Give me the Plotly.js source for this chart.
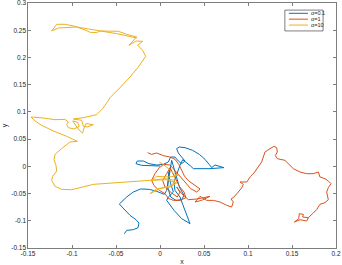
<!DOCTYPE html>
<html>
<head>
<meta charset="utf-8">
<script src="https://cdn.plot.ly/plotly-3.0.1.min.js"></script>
<style>html,body{margin:0;padding:0;background:#fff;}#chart{width:342px;height:265px;}</style>
</head>
<body>
<div id="chart"></div>
<script>
// Series names
const seriesNames = ['\u03b1=0.1', '\u03b1=1', '\u03b1=10'];
const seriesColors = ['#0072BD', '#D95319', '#EDB120'];

// alpha = 0.1 (blue)
const blueX = [0,-0.0114,-0.0208,-0.0273,-0.0258,-0.0189,-0.0125,-0.0038,0.0038,0.0095,0.0121,0.0170,0.0208,0.0246,0.0284,0.0246,0.0208,0.0189,0.0220,0.0284,0.0371,0.0447,0.0511,0.0561,0.0587,0.0625,0.0682,0.0727,0.0568,0.0379,0.0348,0.0303,0.0258,0.0227,0.0189,0.0159,0.0170,0.0227,0.0258,0.0295,0.0341,0.0246,0.0159,0.0076,0.0095,0.0152,0.0121,0.0095,0.0114,0.0095,0.0087,0.0121,0.0182,0.0246,0.0273,0.0220,0.0189,0.0152,0.0133,0.0076,0.0049,-0.0038,-0.0121,-0.0220,-0.0303,-0.0379,-0.0432,-0.0462,-0.0409,-0.0341,-0.0273,-0.0239,-0.0250,-0.0303,-0.0379,-0.0405];
const blueY = [0.0006,0.0018,0.0018,0.0049,0.0098,0.0098,0.0049,0.0024,0.0037,0.0080,0.0171,0.0171,0.0098,0.0049,0.0098,0.0171,0.0245,0.0325,0.0355,0.0343,0.0294,0.0220,0.0129,0.0031,-0.0024,0.0024,0,-0.0024,-0.0043,-0.0043,0.0006,0.0061,0.0122,0.0018,-0.0135,-0.0288,-0.0441,-0.0563,-0.0698,-0.0870,-0.1053,-0.0961,-0.0808,-0.0625,-0.0563,-0.0472,-0.0318,-0.0135,-0.0043,-0.0196,-0.0380,-0.0563,-0.0625,-0.0612,-0.0533,-0.0380,-0.0196,-0.0012,0.0110,-0.0441,-0.0514,-0.0459,-0.0423,-0.0416,-0.0472,-0.0563,-0.0649,-0.0692,-0.0784,-0.0900,-0.0980,-0.1041,-0.1127,-0.1163,-0.1176,-0.1237];

// alpha = 1 (red)
const redX = [-0.0140,-0.0095,-0.0038,0.0038,0.0114,0.0170,0.0216,0.0250,0.0277,0.0326,0.0398,0.0455,0.0417,0.0348,0.0284,0.0227,0.0170,0.0114,0.0045,-0.0008,-0.0057,-0.0095,-0.0068,-0.0008,0.0057,0.0095,0.0152,0.0227,0.0295,0.0273,0.0220,0.0182,0.0144,0.0114,0.0076,0.0030,0.0057,0.0133,0.0197,0.0227,0.0189,0.0246,0.0322,0.0417,0.0492,0.0568,0.0473,0.0398,0.0455,0.0530,0.0606,0.0682,0.0758,0.0814,0.0833,0.0807,0.0841,0.0890,0.0928,0.0947,0.0909,0.0985,0.1004,0.1030,0.1068,0.1117,0.1155,0.1174,0.1193,0.1250,0.1295,0.1326,0.1333,0.1311,0.1333,0.1420,0.1462,0.1515,0.1591,0.1667,0.1742,0.1799,0.1818,0.1875,0.1913,0.1943,0.1913,0.1894,0.1913,0.1875,0.1818,0.1780,0.1742,0.1686,0.1667,0.1591,0.1527,0.1576,0.1583,0.1629,0.1621,0.1686];
const redY = [0.0251,0.0220,0.0245,0.0196,0.0171,0.0129,0.0031,-0.0073,-0.0178,-0.0269,-0.0355,-0.0416,-0.0472,-0.0410,-0.0288,-0.0184,-0.0061,0.0024,0.0037,-0.0024,-0.0135,-0.0257,-0.0355,-0.0441,-0.0502,-0.0588,-0.0625,-0.0625,-0.0576,-0.0472,-0.0367,-0.0245,-0.0122,-0.0024,-0.0135,-0.0257,-0.0380,-0.0490,-0.0563,-0.0472,-0.0380,-0.0502,-0.0612,-0.0600,-0.0576,-0.0551,-0.0625,-0.0655,-0.0551,-0.0625,-0.0625,-0.0655,-0.0716,-0.0747,-0.0655,-0.0600,-0.0563,-0.0472,-0.0398,-0.0331,-0.0288,-0.0288,-0.0245,-0.0184,-0.0122,-0.0012,0.0080,0.0171,0.0263,0.0325,0.0367,0.0343,0.0263,0.0196,0.0141,0.0110,0.0049,-0.0043,-0.0104,-0.0135,-0.0135,-0.0104,-0.0196,-0.0227,-0.0269,-0.0318,-0.0392,-0.0472,-0.0612,-0.0667,-0.0698,-0.0796,-0.0857,-0.0943,-0.1004,-0.0980,-0.1023,-0.0961,-0.0870,-0.0882,-0.0931,-0.0943];

// alpha = 10 (yellow)
const yellowX = [-0.0008,0.0076,0.0152,0.0208,0.0114,-0.0038,-0.0095,0.0057,0.0170,0.0133,0,-0.0114,-0.0038,0.0114,0.0189,0.0076,-0.0114,-0.0303,-0.0568,-0.0758,-0.0909,-0.1004,-0.1117,-0.1193,-0.1231,-0.1220,-0.1174,-0.1182,-0.1205,-0.1193,-0.1117,-0.1023,-0.0939,-0.1061,-0.1212,-0.1345,-0.1420,-0.1466,-0.1326,-0.1193,-0.1080,-0.1042,-0.1061,-0.1042,-0.0977,-0.0917,-0.0939,-0.0992,-0.0917,-0.0879,-0.0864,-0.0841,-0.0758,-0.0826,-0.0871,-0.0890,-0.0985,-0.0871,-0.0720,-0.0652,-0.0598,-0.0568,-0.0455,-0.0341,-0.0246,-0.0163,-0.0197,-0.0254,-0.0197,-0.0273,-0.0352,-0.0303,-0.0265,-0.0379,-0.0473,-0.0682,-0.0720,-0.0795,-0.0841,-0.0966,-0.1080,-0.1174,-0.1201,-0.1231,-0.1155,-0.0947,-0.0814,-0.0492,-0.0265];
const yellowY = [0.0080,-0.0012,-0.0135,-0.0165,-0.0196,-0.0184,-0.0257,-0.0227,-0.0257,-0.0349,-0.0410,-0.0502,-0.0410,-0.0380,-0.0306,-0.0245,-0.0257,-0.0276,-0.0300,-0.0331,-0.0392,-0.0429,-0.0423,-0.0367,-0.0257,-0.0184,-0.0086,0.0018,0.0122,0.0220,0.0325,0.0447,0.0459,0.0551,0.0649,0.0753,0.0833,0.0906,0.0888,0.0857,0.0863,0.0814,0.0772,0.0710,0.0686,0.0735,0.0814,0.0833,0.0661,0.0612,0.0704,0.0784,0.0765,0.0723,0.0735,0.0845,0.0870,0.0894,0.0949,0.1059,0.1182,0.1261,0.1445,0.1641,0.1825,0.2021,0.2131,0.2223,0.2296,0.2302,0.2223,0.2315,0.2376,0.2425,0.2480,0.2486,0.2456,0.2462,0.2498,0.2572,0.2609,0.2609,0.2560,0.2486,0.2541,0.2560,0.2523,0.2437,0.2357];

// Tick labels
const xTickVals = [-0.15,-0.1,-0.05,0,0.05,0.1,0.15,0.2];
const xTickText = ['-0.15','-0.1','-0.05','0','0.05','0.1','0.15','0.2'];
const yTickVals = [-0.15,-0.1,-0.05,0,0.05,0.1,0.15,0.2,0.25,0.3];
const yTickText = ['-0.15','-0.1','-0.05','0','0.05','0.1','0.15','0.2','0.25','0.3'];

const xs = [blueX, redX, yellowX];
const ys = [blueY, redY, yellowY];

const traces = xs.map((x, i) => ({
  x: x, y: ys[i], type: 'scatter', mode: 'lines', name: seriesNames[i],
  line: {color: seriesColors[i], width: 1}, showlegend: false
}));

// hand-made compact legend (MATLAB style)
const legX0 = 0.834, legX1 = 0.958, legY0 = 0.886, legY1 = 0.971;
const rowY = [0.958, 0.934, 0.910];
const shapes = [{type: 'rect', xref: 'paper', yref: 'paper', x0: legX0, x1: legX1, y0: legY0, y1: legY1,
  line: {color: '#262626', width: 0.6}, fillcolor: '#ffffff'}];
const annotations = [];
seriesNames.forEach((n, i) => {
  shapes.push({type: 'line', xref: 'paper', yref: 'paper', x0: 0.847, x1: 0.909, y0: rowY[i], y1: rowY[i],
    line: {color: seriesColors[i], width: 1}});
  annotations.push({xref: 'paper', yref: 'paper', x: 0.913, y: rowY[i], xanchor: 'left', yanchor: 'middle',
    text: n, showarrow: false, font: {family: 'Liberation Sans, Arial, sans-serif', size: 5.5, color: '#262626'}});
});

const axisCommon = {
  showline: true, mirror: 'ticks', ticks: 'inside', ticklen: 3, tickwidth: 0.6,
  tickcolor: '#262626', linecolor: '#262626', linewidth: 0.6, showgrid: false, zeroline: false,
  tickfont: {family: 'Liberation Sans, Arial, sans-serif', size: 6.5, color: '#262626'},
  tickmode: 'array', ticklabeloverflow: 'allow'
};

const layout = {
  width: 342, height: 265,
  margin: {l: 28, r: 6, t: 3, b: 17},
  paper_bgcolor: '#ffffff', plot_bgcolor: '#ffffff',
  showlegend: false,
  xaxis: Object.assign({}, axisCommon, {range: [-0.15, 0.2], tickvals: xTickVals, ticktext: xTickText,
    title: {text: 'x', font: {family: 'Liberation Sans, Arial, sans-serif', size: 7, color: '#262626'}, standoff: 2}}),
  yaxis: Object.assign({}, axisCommon, {range: [-0.15, 0.3], tickvals: yTickVals, ticktext: yTickText,
    title: {text: 'y', font: {family: 'Liberation Sans, Arial, sans-serif', size: 7, color: '#262626'}, standoff: 2}}),
  shapes: shapes, annotations: annotations
};

Plotly.newPlot('chart', traces, layout, {displayModeBar: false, staticPlot: true});
</script>
</body>
</html>
